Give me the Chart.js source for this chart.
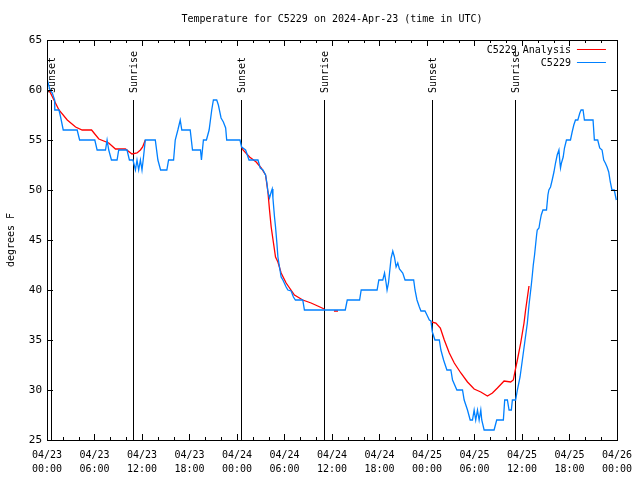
<!DOCTYPE html>
<html>
<head>
<meta charset="utf-8">
<script src="https://cdn.jsdelivr.net/npm/chart.js@4/dist/chart.umd.min.js"></script>
<style>
html,body{margin:0;padding:0;background:#fff;}
canvas{display:block;}
</style>
</head>
<body>
<canvas id="c" width="640" height="480"></canvas>
<script>
// ---- data (x = hours since 2024-04-23 00:00 UTC) ----
const chartTitle = "Temperature for C5229 on 2024-Apr-23 (time in UTC)";
const yAxisTitle = "degrees F";
const seriesNames = ["C5229 Analysis", "C5229"];

const obsHours = [0.04,0.38,0.67,0.97,0.98,1.51,1.72,2.05,3.81,4.12,6.04,6.33,7.39,7.59,7.80,8.14,8.85,9.06,10.11,10.41,10.86,11.17,11.37,11.58,11.80,12.00,12.15,12.42,13.68,14.01,14.35,15.14,15.36,15.99,16.20,16.53,16.83,17.03,18.09,18.38,19.39,19.51,19.76,20.14,20.48,20.81,21.02,21.44,21.65,21.99,22.28,22.57,22.70,24.38,24.58,24.76,25.09,25.52,26.65,26.94,27.28,27.61,27.78,27.91,28.11,28.32,28.45,28.54,28.74,28.87,29.04,29.17,29.37,29.58,29.80,30.21,30.43,30.84,31.13,31.38,32.31,32.52,37.68,37.93,39.49,39.69,41.70,41.92,42.42,42.64,42.84,42.96,43.14,43.27,43.47,43.68,43.89,44.10,44.31,44.52,44.94,45.23,46.32,46.49,46.74,47.04,47.24,47.75,48.00,48.30,48.50,48.68,49.01,49.56,49.76,50.10,50.52,51.02,51.23,51.78,52.49,52.70,53.12,53.46,53.75,53.96,54.16,54.38,54.59,54.80,54.92,55.22,56.48,56.81,57.65,57.82,58.16,58.37,58.66,58.79,59.20,59.42,59.76,60.05,60.34,60.68,60.89,61.18,61.31,61.43,61.59,61.72,61.85,61.93,62.15,62.27,62.44,62.65,63.10,63.28,63.40,63.61,63.82,64.04,64.24,64.45,64.67,64.79,64.87,64.99,65.21,65.37,65.62,66.13,66.34,66.55,66.76,67.06,67.31,67.47,67.72,67.89,68.98,69.15,69.57,69.82,70.12,70.33,70.53,70.75,70.96,71.16,71.37,71.66,71.92];
const obsTemps = [61,60,59.7,59,58,58,57.3,56,56,55,55,54,54,55,54,53,53,54,54,53,53,52,53,52,53,52,53,55,55,53,52,52,53,53,55,56,57,56,56,54,54,53,55,55,56,58,59,59,58.5,57.2,56.8,56.2,55,55,54.3,54.2,54,53,53,52.2,52,51.5,50.7,49.8,49.2,49.8,50.1,49.2,47.3,46.3,44.7,43.3,42.3,41.3,41,40.3,40,39.9,39.3,39,39,38,38,39,39,40,40,41,41,41.7,40.7,40,40.7,41.7,43.2,43.9,43.3,42.3,42.7,42.1,41.7,41,41,40,39,38.3,37.9,37.9,37.5,37,36.9,35.8,35,35,34,33,32,32,31,30,30,29,28,27,27,28,27,28,27,28,27,26,26,27,27,29,29,28,28,29,29,30,31.3,33,34.7,36.7,38.5,40.5,41.5,42.5,43.5,44.5,45.5,46,46.2,46.8,47.5,48,48,49.5,50,50.3,51,51.8,52.7,53.5,54,52.8,52.2,52.7,53.3,54.2,55,55,55.8,56.5,57,57,57.7,58,58,57,57,55,55,54.2,54,53,52.7,52.3,51.8,50.8,50,50,49];

// null entries break the analysis line between nights
const anaHours = [0.25,0.88,1.51,2.56,3.61,4.44,5.63,6.55,7.80,8.65,9.91,10.74,11.37,11.80,12.08,12.42,12.6,
  24.58,24.76,25.59,26.43,27.06,27.61,27.91,28.11,28.32,28.61,28.87,29.17,29.58,30.21,31.26,32.31,33.36,34.20,35.03,35.6,
  36.25,36.76,37.0,
  48.59,49.13,49.69,50.19,50.82,51.45,52.28,53.12,53.96,54.80,55.64,56.27,56.90,57.74,58.57,58.91,59.08,59.42,59.84,60.26,60.46,60.89];
const anaTemps = [60,59,58,57,56.3,56,56,55.1,54.7,54.1,54.1,53.6,53.7,54,54.3,55,null,
  54.3,54,53.3,52.8,52.2,51.5,49.8,48,46.3,44.7,43.3,42.8,41.7,40.7,39.5,39,38.7,38.4,38.1,null,
  37.9,37.9,null,
  36.8,36.7,36.2,35,33.7,32.7,31.7,30.8,30.1,29.8,29.4,29.7,30.2,30.9,30.8,31,31.7,33,34.7,36.7,38,40.4];

const eventHours = [0.47,10.86,24.46,35.03,48.63,59.08];
const eventLabels = ["Sunset","Sunrise","Sunset","Sunrise","Sunset","Sunrise"];
const eventTopTemp = 59;

const xMin = 0, xMax = 72, xStep = 6, xMinorStep = 2;
const yMin = 25, yMax = 65, yStep = 5;
const baseMonth = "04", baseDay = 23;

// ---- styling ----
const FONT = "'DejaVu Sans Mono', 'Liberation Mono', monospace";
const BLUE = "#0080ff";
const RED = "#ff0000";

function pts(xs, ys){ return xs.map((x,i)=>({x:x, y:ys[i]})); }

const gnuplotPlugin = {
  id: 'gnuplotDecor',
  beforeDatasetsDraw(chart){
    const {ctx, chartArea:a, scales:{x, y}} = chart;
    ctx.save();
    // event vertical lines + rotated labels
    ctx.strokeStyle = '#000';
    ctx.lineWidth = 1;
    ctx.fillStyle = '#000';
    ctx.font = '10px ' + FONT;
    eventHours.forEach((h, i) => {
      const px = Math.round(x.getPixelForValue(h)) + 0.5;
      const top = Math.round(y.getPixelForValue(eventTopTemp));
      ctx.beginPath();
      ctx.moveTo(px, top);
      ctx.lineTo(px, a.bottom);
      ctx.stroke();
      ctx.save();
      ctx.translate(px + 1, top - 7);
      ctx.rotate(-Math.PI/2);
      ctx.textAlign = 'left';
      ctx.textBaseline = 'middle';
      ctx.fillText(eventLabels[i], 0, 0);
      ctx.restore();
    });
    ctx.restore();
  },
  afterDraw(chart){
    const {ctx, chartArea:a, scales:{x, y}} = chart;
    ctx.save();
    ctx.strokeStyle = '#000';
    ctx.lineWidth = 1;
    // frame
    ctx.strokeRect(Math.round(a.left)+0.5, Math.round(a.top)+0.5, Math.round(a.right-a.left), Math.round(a.bottom-a.top));
    // x ticks (top and bottom, inward)
    ctx.beginPath();
    for (let v = xMin; v <= xMax + 1e-9; v += xMinorStep){
      const px = Math.round(x.getPixelForValue(v)) + 0.5;
      const len = (Math.abs(v % xStep) < 1e-9) ? 6 : 3;
      ctx.moveTo(px, a.bottom); ctx.lineTo(px, a.bottom - len);
      ctx.moveTo(px, a.top); ctx.lineTo(px, a.top + len);
    }
    // y ticks (left and right, inward)
    for (let v = yMin; v <= yMax + 1e-9; v += yStep){
      const py = Math.round(y.getPixelForValue(v)) + 0.5;
      ctx.moveTo(a.left, py); ctx.lineTo(a.left + 6, py);
      ctx.moveTo(a.right, py); ctx.lineTo(a.right - 6, py);
    }
    ctx.stroke();
    // title
    ctx.fillStyle = '#000';
    ctx.font = '10px ' + FONT;
    ctx.textAlign = 'center';
    ctx.textBaseline = 'middle';
    ctx.fillText(chartTitle, (a.left + a.right)/2, 19);
    // y axis title
    ctx.save();
    ctx.translate(11, (a.top + a.bottom)/2);
    ctx.rotate(-Math.PI/2);
    ctx.fillText(yAxisTitle, 0, 0);
    ctx.restore();
    // legend (text right-aligned, sample line to the right)
    const colors = [RED, BLUE];
    seriesNames.forEach((name, i) => {
      const ly = 50 + i*13;
      ctx.fillStyle = '#000';
      ctx.textAlign = 'right';
      ctx.fillText(name, a.right - 46, ly);
      ctx.strokeStyle = colors[i];
      ctx.lineWidth = 1;
      ctx.beginPath();
      ctx.moveTo(a.right - 40, ly - 0.5);
      ctx.lineTo(a.right - 11, ly - 0.5);
      ctx.stroke();
    });
    ctx.restore();
  }
};

new Chart(document.getElementById('c'), {
  type: 'line',
  data: {
    datasets: [
      {
        label: seriesNames[1],
        data: pts(obsHours, obsTemps),
        borderColor: BLUE,
        borderWidth: 1.3,
        pointRadius: 0,
        tension: 0,
        fill: false
      },
      {
        label: seriesNames[0],
        data: pts(anaHours, anaTemps),
        borderColor: RED,
        borderWidth: 1.3,
        pointRadius: 0,
        tension: 0,
        spanGaps: false,
        fill: false
      }
    ]
  },
  options: {
    responsive: false,
    animation: false,
    devicePixelRatio: 1,
    parsing: true,
    layout: { padding: { top: 40, right: 19, left: 0, bottom: 0 } },
    plugins: {
      legend: { display: false },
      title: { display: false },
      tooltip: { enabled: false }
    },
    scales: {
      x: {
        type: 'linear',
        min: xMin, max: xMax,
        grid: { display: false, drawTicks: false },
        border: { display: false },
        afterFit(s){ s.height = 40; },
        afterBuildTicks(s){
          const t = [];
          for (let v = xMin; v <= xMax; v += xStep) t.push({value: v});
          s.ticks = t;
        },
        ticks: {
          autoSkip: false, maxRotation: 0, minRotation: 0,
          padding: 8,
          color: '#000',
          font: { family: FONT, size: 10, lineHeight: 1.4 },
          callback(v){
            const day = baseDay + Math.floor(v / 24);
            const hr = v % 24;
            return [baseMonth + '/' + String(day).padStart(2,'0'), String(hr).padStart(2,'0') + ':00'];
          }
        }
      },
      y: {
        min: yMin, max: yMax,
        grid: { display: false, drawTicks: false },
        border: { display: false },
        afterFit(s){ s.width = 47; },
        ticks: {
          stepSize: yStep,
          padding: 5,
          color: '#000',
          font: { family: FONT, size: 11 }
        }
      }
    }
  },
  plugins: [gnuplotPlugin]
});
</script>
</body>
</html>
